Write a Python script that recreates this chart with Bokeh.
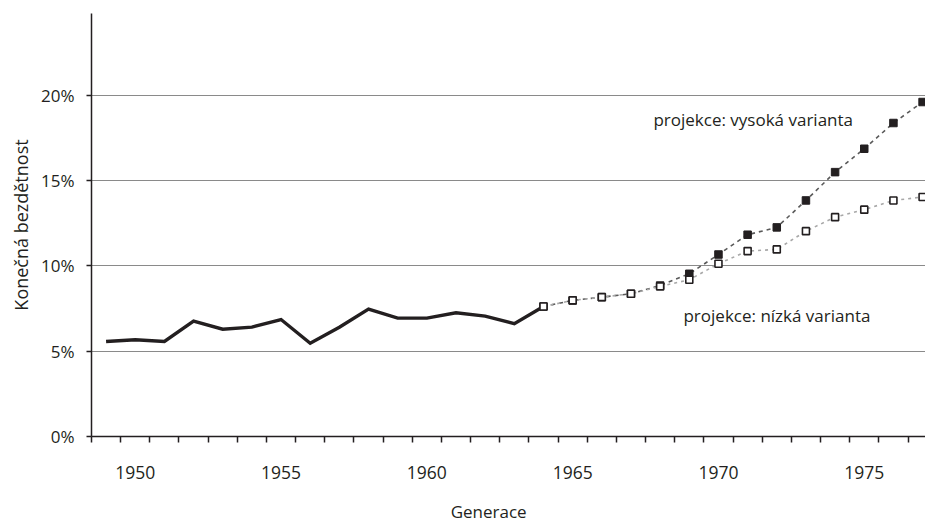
from bokeh.plotting import figure
from bokeh.layouts import column
from bokeh.models import Range1d, FixedTicker, Label, CustomJSTickFormatter, Title
from bokeh.core.properties import value
from bokeh.embed import file_html
from bokeh.resources import INLINE

# ---- data ----
hist_years = [1949, 1950, 1951, 1952, 1953, 1954, 1955, 1956, 1957, 1958,
              1959, 1960, 1961, 1962, 1963, 1964]
hist_vals = [5.57, 5.67, 5.57, 6.76, 6.29, 6.41, 6.86, 5.47, 6.41, 7.47,
             6.94, 6.94, 7.25, 7.06, 6.61, 7.62]

proj_years = [1964, 1965, 1966, 1967, 1968, 1969, 1970, 1971, 1972, 1973,
              1974, 1975, 1976, 1977]
high_vals = [7.62, 7.98, 8.17, 8.37, 8.85, 9.54, 10.67, 11.83, 12.26, 13.84,
             15.50, 16.87, 18.38, 19.61]
low_vals = [7.62, 7.98, 8.17, 8.37, 8.80, 9.19, 10.13, 10.87, 10.97, 12.04,
            12.86, 13.30, 13.84, 14.04]

all_years = hist_years + proj_years[1:]
label_years = [1950, 1955, 1960, 1965, 1970, 1975]
y_ticks = [0, 5, 10, 15, 20]

FONT = "Open Sans"
TXT = "#231f20"
X0, X1 = 1948.5, 1977.1

p = figure(width=925, height=495, output_backend="svg", toolbar_location=None,
           x_range=Range1d(X0, X1), y_range=Range1d(0, 24.8),
           min_border_left=91, min_border_right=0, min_border_top=13,
           min_border_bottom=59)
p.outline_line_color = None
p.background_fill_color = "white"

# axes
p.xaxis.ticker = FixedTicker(ticks=label_years,
                             minor_ticks=[y - 0.5 for y in all_years] + [all_years[-1] + 0.5])
p.xaxis.major_tick_out = 0
p.xaxis.major_tick_in = 0
p.xaxis.minor_tick_out = 6
p.xaxis.minor_tick_in = 0
p.xaxis.minor_tick_line_color = TXT
p.xaxis.minor_tick_line_width = 1.5
p.xaxis.axis_line_color = TXT
p.xaxis.axis_line_width = 1.5
p.xaxis.major_label_text_font = FONT
p.xaxis.major_label_text_font_size = "17.5px"
p.xaxis.major_label_text_color = TXT
p.xaxis.major_label_standoff = 23

p.yaxis.ticker = FixedTicker(ticks=y_ticks)
p.yaxis.formatter = CustomJSTickFormatter(code="return tick + '%';")
p.yaxis.major_tick_out = 5
p.yaxis.major_tick_in = 0
p.yaxis.minor_tick_line_color = None
p.yaxis.major_tick_line_color = TXT
p.yaxis.major_tick_line_width = 1.5
p.yaxis.axis_line_color = TXT
p.yaxis.axis_line_width = 1.5
p.yaxis.major_label_text_font = FONT
p.yaxis.major_label_text_font_size = "17px"
p.yaxis.major_label_text_color = TXT
p.yaxis.major_label_standoff = 12

p.xgrid.grid_line_color = None
p.ygrid.ticker = FixedTicker(ticks=y_ticks[1:])
p.ygrid.grid_line_color = "#8a8a8a"
p.ygrid.grid_line_width = 1.2

# y axis title
p.add_layout(Title(text="Konečná bezdětnost", align="center", offset=10,
                   text_font=FONT, text_font_size="18px", text_color=TXT,
                   text_font_style="normal", standoff=11), "left")

# projections
p.line(proj_years, high_vals, line_color="#5a5a5a", line_width=1.6, line_dash="4 4")
p.line(proj_years, low_vals, line_color="#a8a8a8", line_width=1.6, line_dash="3 4")
# history
p.line(hist_years, hist_vals, line_color=TXT, line_width=3.4, line_join="miter")
p.scatter(proj_years, high_vals, marker="square", size=7.5,
          fill_color=TXT, line_color=TXT, line_width=1)
p.scatter(proj_years, low_vals, marker="square", size=7,
          fill_color="white", line_color=TXT, line_width=1.6)

# annotations
p.add_layout(Label(x=1967.77, y=18.59, text="projekce: vysoká varianta",
                   text_font=FONT, text_font_size="17px", text_color=TXT,
                   text_baseline="alphabetic", text_align="left"))
p.add_layout(Label(x=1968.80, y=7.10, text="projekce: nízká varianta",
                   text_font=FONT, text_font_size="17px", text_color=TXT,
                   text_baseline="alphabetic", text_align="left"))

# x axis title strip
p2 = figure(width=925, height=28, output_backend="svg", toolbar_location=None,
            x_range=Range1d(X0, X1), y_range=Range1d(0, 28),
            x_axis_location=None, y_axis_location=None,
            min_border_left=91, min_border_right=0, min_border_top=0,
            min_border_bottom=0)
p2.outline_line_color = None
p2.grid.visible = False
p2.text(x=[1962.12], y=[12], text=["Generace"], text_font=value(FONT),
        text_font_size="17px", text_color=TXT, text_align="center",
        text_baseline="middle")

open("out.html", "w").write(file_html(column(p, p2, spacing=0), INLINE))
